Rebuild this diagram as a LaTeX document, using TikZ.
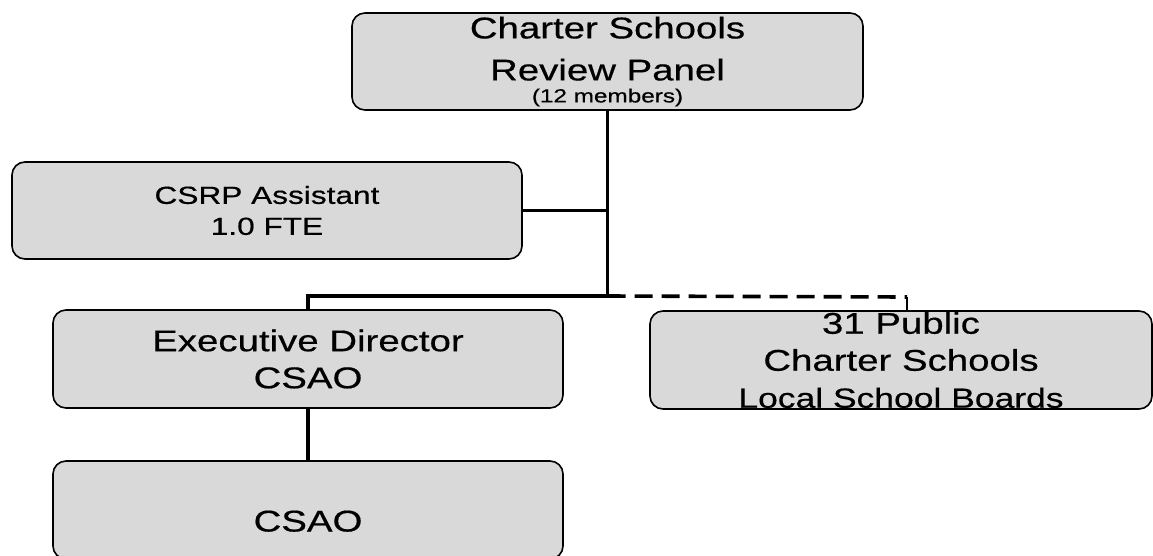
\documentclass[tikz,border=0pt]{standalone}
\usepackage{fontspec}
\setmainfont{Liberation Sans}[FakeStretch=1.28, FakeBold=0.5]

\tikzset{
    unit/.style={draw, line width=1.6pt, fill=gray!30, rounded corners=13pt,
        inner sep=0pt, align=center, minimum width=510pt, minimum height=98pt},
    link/.style={line width=3.6pt},
    bigtext/.style={font=\fontsize{30}{37}\selectfont}
}

\begin{document}
\begin{tikzpicture}[x=1pt, y=-1pt]
    \useasboundingbox (0,0) rectangle (1153,555);
    % boxes
    \node[unit, minimum width=511pt, minimum height=97pt, font=\fontsize{30}{42}\selectfont] (panel) at (607.5,61.5)
        {Charter Schools\\Review Panel\\[-20pt]{\fontsize{19}{20}\selectfont (12 members)}};
    \node[unit, minimum height=97pt, font=\fontsize{24.7}{31}\selectfont] (assistant) at (267,210.5)
        {CSRP Assistant\\1.0 FTE};
    \node[unit, bigtext] (director) at (308,359) {Executive Director\\CSAO};
    \node[unit, bigtext, minimum width=502pt] (schools) at (901,360)
        {31 Public\\Charter Schools\\{\fontsize{27.7}{37}\selectfont Local School Boards}};
    \node[unit, bigtext, text height=43pt, text depth=0pt] (csao) at (308,510) {CSAO};
    % connectors
    \coordinate (hub) at (607.5,296);
    \coordinate (tick) at (907,297);
    \draw[link] (panel.south) -- (hub);
    \draw[link] (assistant.east) -- (assistant.east -| hub);
    \draw[link] (hub) -| (director.north);
    \draw[link, dash pattern=on 18pt off 9pt] (hub) -- (tick);
    \draw[line width=2.2pt] (tick) -- (tick |- schools.north);
    \draw[link] (director) -- (csao);
\end{tikzpicture}
\end{document}
